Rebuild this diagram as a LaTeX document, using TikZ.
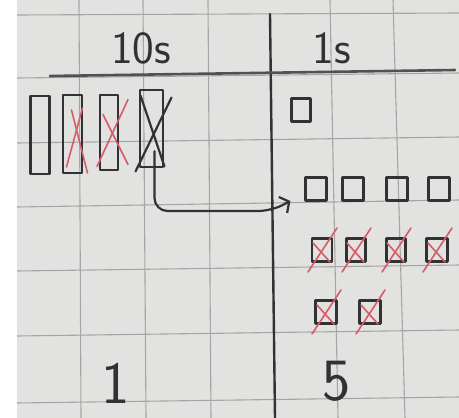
\documentclass[tikz,border=0pt]{standalone}
\usepackage{tikz}
\usetikzlibrary{arrows.meta,positioning}

\definecolor{paper}{RGB}{226,226,224}
\definecolor{gridgray}{RGB}{165,165,165}
\definecolor{inkgray}{RGB}{50,50,52}
\definecolor{inkred}{RGB}{214,92,104}

\begin{document}
\begin{tikzpicture}[
  x=1pt,y=-1pt,
  gridline/.style={draw=gridgray,line width=1.1pt},
  ink/.style={draw=inkgray,line width=2.2pt,line cap=round,line join=round},
  rod/.style={ink,minimum width=19pt,minimum height=78pt,inner sep=0pt},
  unit/.style={ink,minimum width=21pt,minimum height=23pt,inner sep=0pt},
  cross/.style={draw=inkred,line width=1.6pt,line cap=round},
  digits/.style={text=inkgray,anchor=base,inner sep=0pt,font=\fontsize{46}{46}\selectfont\sffamily},
  bigdigit/.style={digits,font=\fontsize{60}{60}\selectfont\sffamily},
  flow/.style={ink,rounded corners=13pt,-{Straight Barb[length=7pt,width=18pt]}}
]
\useasboundingbox (0,0) rectangle (459,418);
\fill[white] (0,0) rectangle (459,418);
\fill[paper] (17,0) rectangle (459,418);

% grid of the paper
\foreach \a/\b in {15/13,78/73,143/137,207/200,271/265,336/330,403/397}
  \draw[gridline] (17,\a) -- (459,\b);
\foreach \a/\b in {79/81,143/146,208/211,330/338,393/405}
  \draw[gridline] (\a,0) -- (\b,418);

% chart lines
\draw[ink,line width=2.4pt] (270,14) -- (275,418);
\draw[ink,line width=2.6pt,draw=inkgray!85] (50,76) -- (455,70);

% headings
\node[digits] (tens) at (141,63) {10s};
\node[digits] (ones) at (332,63) {1s};

% tens rods
\node[rod] (r1) at (40,135) {};
\node[rod,minimum height=78pt] (r2) at (72.5,134) {};
\node[rod,minimum width=18pt,minimum height=75pt] (r3) at (109,132.5) {};
\node[rod,minimum width=23pt,minimum height=77pt] (r4) at (151.5,128.5) {};
\draw[cross] ([shift={(-1,-24)}]r2.center) -- ([shift={(15,39)}]r2.center);
\draw[cross] ([shift={(-6,33)}]r2.center) -- ([shift={(10,-26)}]r2.center);
\draw[cross] ([shift={(-12,34)}]r3.center) -- ([shift={(19,-33)}]r3.center);
\draw[cross] ([shift={(-6,-18)}]r3.center) -- ([shift={(19,32)}]r3.center);
\draw[ink] ([shift={(-11,-33)}]r4.center) -- ([shift={(13,38)}]r4.center);
\draw[ink] ([shift={(20,-31)}]r4.center) -- ([shift={(-16,43)}]r4.center);

% ones
\node[unit,minimum width=19pt] (q1) at (301,110) {};
\node[unit] (q21) at (316,189) {};
\node[unit] (q22) at (353,189) {};
\node[unit] (q23) at (397,189) {};
\node[unit] (q24) at (439,189) {};
\node[unit,minimum width=20pt] (q31) at (322,250) {};
\node[unit,minimum width=19pt] (q32) at (356,250) {};
\node[unit,minimum width=19pt] (q33) at (396,250) {};
\node[unit] (q34) at (437,250) {};
\node[unit] (q41) at (326,312) {};
\node[unit] (q42) at (370,312) {};
\foreach \q in {q31,q32,q33,q34,q41,q42} {
  \draw[cross] ([shift={(-14,22)}]\q.center) -- ([shift={(15,-22)}]\q.center);
  \draw[cross] ([shift={(-9,-7)}]\q.center) -- ([shift={(8,12)}]\q.center);
}

% regrouping arrow
\coordinate (tip) at ([shift={(-14,12)}]q21.west);
\draw[flow] ([shift={(3,-17)}]r4.south) |- ([shift={(-33,22)}]q21.west) -- (tip);

% totals
\node[bigdigit] (tenstotal) at (116,403) {1};
\node[bigdigit] (onestotal) at (337,400) {5};
\end{tikzpicture}
\end{document}
